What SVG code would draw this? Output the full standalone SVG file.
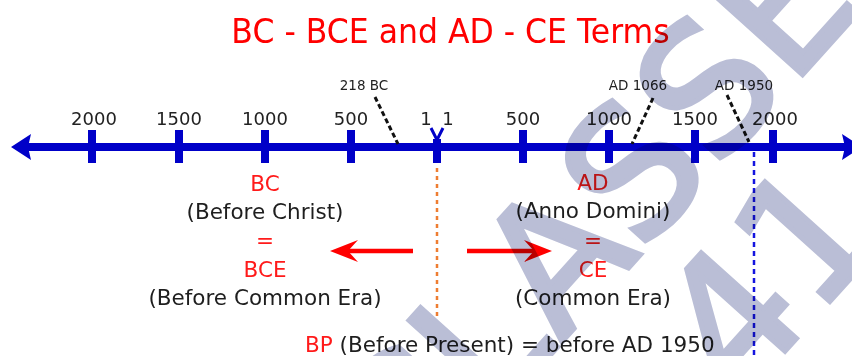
<svg xmlns="http://www.w3.org/2000/svg" width="852" height="356" viewBox="0 0 852 356">
  <defs>
    <style>
      .title { font-family: "DejaVu Sans", "Liberation Sans", sans-serif; font-size: 31.5px; fill: #ff0000; text-anchor: middle; }
      .tick-label { font-family: "DejaVu Sans", sans-serif; font-size: 18px; fill: #222222; text-anchor: middle; }
      .small-label { font-family: "DejaVu Sans", sans-serif; font-size: 13.5px; fill: #222222; text-anchor: middle; }
      .term { font-family: "DejaVu Sans", sans-serif; font-size: 21.5px; fill: #ff1a1a; text-anchor: middle; }
      .desc { font-family: "DejaVu Sans", sans-serif; font-size: 21.5px; fill: #1e1e1e; text-anchor: middle; }
      .bp { font-family: "DejaVu Sans", sans-serif; font-size: 21.5px; fill: #1e1e1e; }
      .tick { fill: #0000c8; }
      .axis { stroke: #0000c8; stroke-width: 8; fill: none; }
      .leader { stroke: #111111; stroke-width: 3; stroke-dasharray: 5 3; fill: none; }
      .watermark { font-family: "DejaVu Sans", sans-serif; font-size: 176px; fill: #babed6; stroke: #babed6; stroke-width: 5; stroke-linejoin: miter; text-anchor: middle; mix-blend-mode: multiply; }
    </style>
  </defs>

  <rect width="852" height="356" fill="#ffffff"/>

  <g id="title">
    <text class="title" transform="translate(450.5,43) scale(1,1.08)" x="0" y="0">BC - BCE and AD - CE Terms</text>
  </g>

  <g id="timeline">
    <line class="axis" x1="24" y1="147" x2="846" y2="147"/>
    <path d="M11,147 L31,134 L28,147 L31,160 Z" fill="#0000c8"/>
    <path d="M862,147 L842,134 L845,147 L842,160 Z" fill="#0000c8"/>
    <rect class="tick" x="88" y="130" width="8" height="33"/>
    <rect class="tick" x="175" y="130" width="8" height="33"/>
    <rect class="tick" x="261" y="130" width="8" height="33"/>
    <rect class="tick" x="347" y="130" width="8" height="33"/>
    <rect class="tick" x="433" y="139" width="8" height="24"/>
    <path d="M431,128 L437,140 L443,128" stroke="#0000c8" stroke-width="3" fill="none"/>
    <rect class="tick" x="519" y="130" width="8" height="33"/>
    <rect class="tick" x="605" y="130" width="8" height="33"/>
    <rect class="tick" x="691" y="130" width="8" height="33"/>
    <rect class="tick" x="769" y="130" width="8" height="33"/>
    <text class="tick-label" x="94" y="125">2000</text>
    <text class="tick-label" x="179" y="125">1500</text>
    <text class="tick-label" x="265" y="125">1000</text>
    <text class="tick-label" x="351" y="125">500</text>
    <text class="tick-label" x="426" y="125">1</text>
    <text class="tick-label" x="448" y="125">1</text>
    <text class="tick-label" x="523" y="125">500</text>
    <text class="tick-label" x="609" y="125">1000</text>
    <text class="tick-label" x="695" y="125">1500</text>
    <text class="tick-label" x="775" y="125">2000</text>
  </g>

  <g id="event-218bc">
    <text class="small-label" x="364" y="90">218 BC</text>
  </g>
  <g id="event-ad1066">
    <text class="small-label" x="638" y="90">AD 1066</text>
  </g>
  <g id="event-ad1950">
    <text class="small-label" x="744" y="90">AD 1950</text>
  </g>

  <g id="bc-block">
    <text class="term" x="265" y="191">BC</text>
    <text class="desc" x="265" y="219">(Before Christ)</text>
    <text class="term" x="265" y="248">=</text>
    <text class="term" x="265" y="277">BCE</text>
    <text class="desc" x="265" y="305">(Before Common Era)</text>
  </g>

  <g id="ad-block">
    <text class="term" x="593" y="190">AD</text>
    <text class="desc" x="593" y="218">(Anno Domini)</text>
    <text class="term" x="593" y="248">=</text>
    <text class="term" x="593" y="277">CE</text>
    <text class="desc" x="593" y="305">(Common Era)</text>
  </g>

  <g id="bp-note">
    <text class="bp" x="305" y="352"><tspan fill="#ff1a1a">BP</tspan> (Before Present) = before AD 1950</text>
  </g>

  <g id="connectors">
    <line class="leader" x1="375" y1="97" x2="398" y2="144"/>
    <line class="leader" x1="653" y1="98" x2="632" y2="144"/>
    <line class="leader" x1="727" y1="95" x2="749" y2="142"/>
    <line x1="437" y1="168" x2="437" y2="318" stroke="#ee7d31" stroke-width="2.5" stroke-dasharray="4 4"/>
    <line x1="754" y1="152" x2="754" y2="356" stroke="#1414e0" stroke-width="2.5" stroke-dasharray="5 4"/>
    <line x1="413" y1="251" x2="345" y2="251" stroke="#ff0000" stroke-width="4.5"/>
    <path d="M330,251 L358,240 L348,251 L358,262 Z" fill="#ff0000"/>
    <line x1="467" y1="251" x2="537" y2="251" stroke="#ff0000" stroke-width="4.5"/>
    <path d="M552,251 L524,240 L534,251 L524,262 Z" fill="#ff0000"/>
  </g>

  <g id="watermark" transform="translate(634,262) rotate(-48)">
    <text class="watermark" x="6" y="0">CLASSE</text>
    <text class="watermark" x="80" y="172">41</text>
  </g>
</svg>
